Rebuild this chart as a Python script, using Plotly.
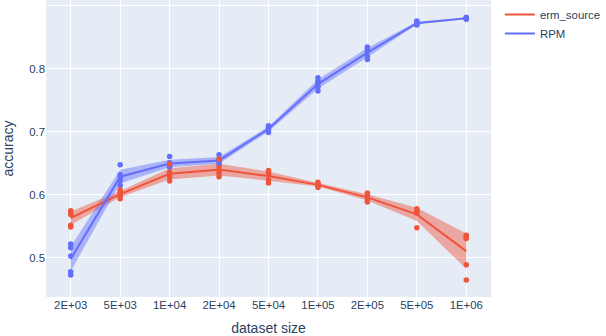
import numpy as np
import plotly.graph_objects as go

# dataset sizes (categorical x axis)
sizes = ["2E+03", "5E+03", "1E+04", "2E+04", "5E+04", "1E+05", "2E+05", "5E+05", "1E+06"]

# per-seed accuracies, one row per dataset size
erm_source = [
    [0.575, 0.572, 0.569, 0.552, 0.549],
    [0.608, 0.605, 0.602, 0.598, 0.594],
    [0.649, 0.636, 0.633, 0.628, 0.622],
    [0.657, 0.643, 0.638, 0.634, 0.629],
    [0.639, 0.636, 0.632, 0.624, 0.619],
    [0.620, 0.618, 0.616, 0.614, 0.612],
    [0.603, 0.600, 0.597, 0.592, 0.589],
    [0.578, 0.576, 0.573, 0.571, 0.548],
    [0.536, 0.533, 0.531, 0.489, 0.465],
]
rpm = [
    [0.522, 0.516, 0.503, 0.478, 0.473],
    [0.648, 0.632, 0.628, 0.622, 0.615],
    [0.661, 0.651, 0.648, 0.646, 0.644],
    [0.664, 0.657, 0.654, 0.651, 0.648],
    [0.710, 0.708, 0.705, 0.702, 0.699],
    [0.786, 0.781, 0.777, 0.771, 0.765],
    [0.835, 0.832, 0.828, 0.820, 0.815],
    [0.876, 0.874, 0.873, 0.871, 0.870],
    [0.882, 0.881, 0.880, 0.880, 0.879],
]

series = [
    ("erm_source", erm_source, "#EF553B", "rgba(239,85,59,0.45)"),
    ("RPM", rpm, "#636EFA", "rgba(99,110,250,0.45)"),
]

fig = go.Figure()
bands, lines, points = [], [], []

for name, runs, color, fill in series:
    arr = np.array(runs)
    mean = arr.mean(axis=1)
    ci = 1.96 * arr.std(axis=1, ddof=1) / np.sqrt(arr.shape[1])

    # confidence band
    bands.append(go.Scatter(
        x=sizes + sizes[::-1],
        y=list(mean + ci) + list((mean - ci)[::-1]),
        mode="lines", fill="toself", fillcolor=fill, line=dict(width=0),
        hoverinfo="skip", showlegend=False,
    ))
    # mean line
    lines.append(go.Scatter(
        x=sizes, y=mean, mode="lines", name=name,
        line=dict(color=color, width=2),
    ))
    # individual runs
    xs = [s for s, row in zip(sizes, runs) for _ in row]
    ys = [v for row in runs for v in row]
    points.append(go.Scatter(
        x=xs, y=ys, mode="markers",
        marker=dict(color=color, size=5.5),
        showlegend=False,
    ))

fig.add_traces(bands + lines + points[::-1])

fig.update_layout(
    width=606, height=336,
    margin=dict(l=46, r=106, t=0, b=39),
    font=dict(family="Arial, Liberation Sans, sans-serif", size=11.4, color="#2a3f5f"),
    plot_bgcolor="#E5ECF6",
    legend=dict(traceorder="normal"),
)
fig.update_xaxes(type="category", title_text="dataset size", automargin=False,
                 gridcolor="white", range=[-0.5, 8.5])
fig.update_yaxes(title_text="accuracy", automargin=False, gridcolor="white",
                 dtick=0.1, range=[0.438, 0.9095], zeroline=False)

# drop the page's default body margin so the figure sits at the window corner
fig.write_html("out.html", config={"displayModeBar": False},
               post_script="document.body.style.margin='0';"
               "document.body.style.overflow='hidden';")
